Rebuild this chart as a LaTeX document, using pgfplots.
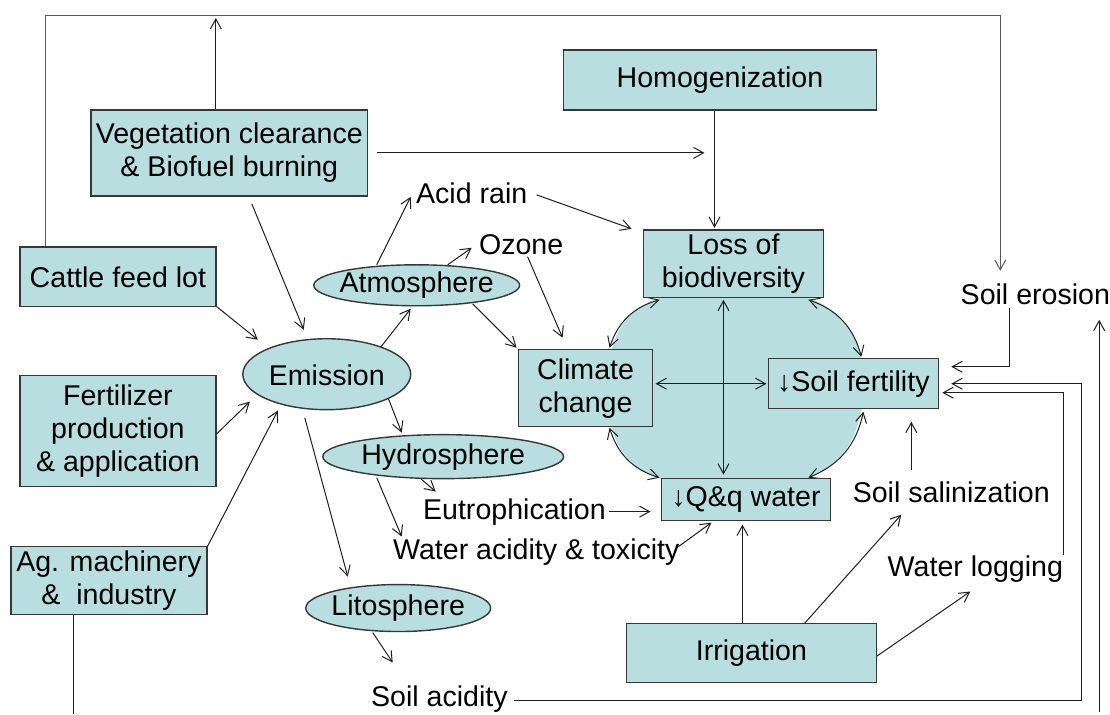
\documentclass[border=0pt]{standalone}
\usepackage{fontspec}
\setmainfont{Liberation Sans}
\usepackage{pgfplots}
\pgfplotsset{compat=1.18}
\usetikzlibrary{arrows.meta}
\definecolor{boxfill}{RGB}{184,222,224}
\definecolor{boxline}{RGB}{55,55,55}
\definecolor{lnc}{RGB}{30,30,30}
\begin{document}
\begin{tikzpicture}[>={Straight Barb[length=5pt,width=5.5pt]},
  font=\fontsize{14.3}{16.6}\selectfont]
\begin{axis}[scale only axis, width=555pt, height=357.5pt,
  xmin=0, xmax=1110, ymin=0, ymax=715, y dir=reverse,
  hide axis, clip=false]
\path (axis cs:0,0) rectangle (axis cs:1110,715);
\tikzset{bx/.style={draw=boxline, fill=boxfill, line width=0.7pt},
         tx/.style={inner sep=0pt, align=center},
         al/.style={lnc, line width=0.5pt, ->},
         dl/.style={lnc, line width=0.5pt, <->},
         pl/.style={lnc, line width=0.5pt}}
% central filled region
\fill[boxfill] (axis cs:612,350) to[bend left=28] (axis cs:660,298) -- (axis cs:809,298)
  to[bend left=28] (axis cs:862,359) -- (axis cs:862,410)
  to[bend left=28] (axis cs:809,479) -- (axis cs:660,479)
  to[bend left=28] (axis cs:612,427) -- cycle;
\draw[dl] (axis cs:610,348) to[bend left=28] (axis cs:660,300);
\draw[dl] (axis cs:809,300) to[bend left=28] (axis cs:862,357);
\draw[dl] (axis cs:864,412) to[bend left=28] (axis cs:809,478);
\draw[dl] (axis cs:660,478) to[bend left=28] (axis cs:610,428);

% connecting lines and arrows
\addplot[al, draw=gray!70!black] coordinates {(46,247) (46,16) (1001,16) (1001,271)};
\addplot[al] coordinates {(216,110) (216,18)};
\addplot[al] coordinates {(377,153) (705,153)};
\addplot[al] coordinates {(715,110) (715,228)};
\addplot[al] coordinates {(537,195) (632,229)};
\addplot[al] coordinates {(377,265) (411,197)};
\addplot[al] coordinates {(448,265) (472,248)};
\addplot[al] coordinates {(528,257) (563,338)};
\addplot[al] coordinates {(473,304) (517,348)};
\addplot[al] coordinates {(217,307) (258,340)};
\addplot[al] coordinates {(252,204) (304,330)};
\addplot[al] coordinates {(379,350) (411,309)};
\addplot[al] coordinates {(216,435) (250,402)};
\addplot[al] coordinates {(207,548) (278,411)};
\addplot[pl] coordinates {(74,615) (74,715)};
\addplot[al] coordinates {(386,392) (402,433)};
\addplot[al] coordinates {(305,418) (348,577)};
\addplot[al] coordinates {(421,479) (436,492)};
\addplot[al] coordinates {(377,478) (402,537)};
\addplot[al] coordinates {(373,633) (393,663)};
\addplot[al] coordinates {(609,512) (651,512)};
\addplot[al] coordinates {(679,547) (712,523)};
\addplot[al] coordinates {(743,624) (743,525)};
\addplot[al] coordinates {(805,624) (902,515)};
\addplot[al] coordinates {(877,657) (971,592)};
\addplot[al] coordinates {(912,470) (912,422)};
\addplot[al] coordinates {(1010,308) (1010,367) (952,367)};
\addplot[al] coordinates {(514,701) (1082,701) (1082,384) (952,384)};
\addplot[al] coordinates {(1064,555) (1064,393) (943,393)};
\addplot[al] coordinates {(1100,713) (1100,320)};
\addplot[dl] coordinates {(656,384) (767,384)};
\addplot[dl] coordinates {(724,300) (724,475)};

% boxes
\draw[bx] (axis cs:564,50) rectangle (axis cs:877,110);
\draw[bx] (axis cs:91,110) rectangle (axis cs:368,196);
\draw[bx] (axis cs:20,247) rectangle (axis cs:216,307);
\draw[bx] (axis cs:20,376) rectangle (axis cs:216,487);
\draw[bx] (axis cs:11,547) rectangle (axis cs:207,615);
\draw[bx] (axis cs:644,230) rectangle (axis cs:824,298);
\draw[bx] (axis cs:519,350) rectangle (axis cs:653,427);
\draw[bx] (axis cs:769,359) rectangle (axis cs:939,409);
\draw[bx] (axis cs:662,479) rectangle (axis cs:831,521);
\draw[bx] (axis cs:627,624) rectangle (axis cs:877,683);
% ellipses
\draw[bx] (axis cs:417,285.5) ellipse [x radius=103, y radius=20.5];
\draw[bx] (axis cs:327,374.5) ellipse [x radius=84, y radius=35.5];
\draw[bx] (axis cs:443.5,457) ellipse [x radius=120.5, y radius=22];
\draw[bx] (axis cs:398.5,608.5) ellipse [x radius=92.5, y radius=23.5];

% box texts
\node[tx] at (axis cs:720.5,80) {Homogenization};
\node[tx] at (axis cs:229.5,153) {Vegetation clearance\\\& Biofuel burning};
\node[tx] at (axis cs:118,277) {Cattle feed lot};
\node[tx] at (axis cs:118,431.5) {Fertilizer\\production\\\& application};
\node[tx] at (axis cs:109,581) {Ag. machinery\\\&~ industry};
\node[tx] at (axis cs:734,264) {Loss of\\biodiversity};
\node[tx] at (axis cs:586,388.5) {Climate\\change};
\node[tx] at (axis cs:854,384) {↓Soil fertility};
\node[tx] at (axis cs:746.5,500) {↓Q\&q water};
\node[tx] at (axis cs:752,653.5) {Irrigation};
\node[tx] at (axis cs:417,285.5) {Atmosphere};
\node[tx] at (axis cs:327,376) {Emission};
\node[tx] at (axis cs:443.5,457) {Hydrosphere};
\node[tx] at (axis cs:398.5,608.5) {Litosphere};
% free texts
\node[tx, anchor=west] at (axis cs:416,193) {Acid rain};
\node[tx, anchor=west] at (axis cs:479,245) {Ozone};
\node[tx, anchor=west] at (axis cs:961,295) {Soil erosion};
\node[tx, anchor=west] at (axis cs:423,512) {Eutrophication};
\node[tx, anchor=west] at (axis cs:393,553) {Water acidity \& toxicity};
\node[tx, anchor=west] at (axis cs:853,493) {Soil salinization};
\node[tx, anchor=west] at (axis cs:888,570) {Water logging};
\node[tx, anchor=west] at (axis cs:371,700) {Soil acidity};
\end{axis}
\end{tikzpicture}
\end{document}
